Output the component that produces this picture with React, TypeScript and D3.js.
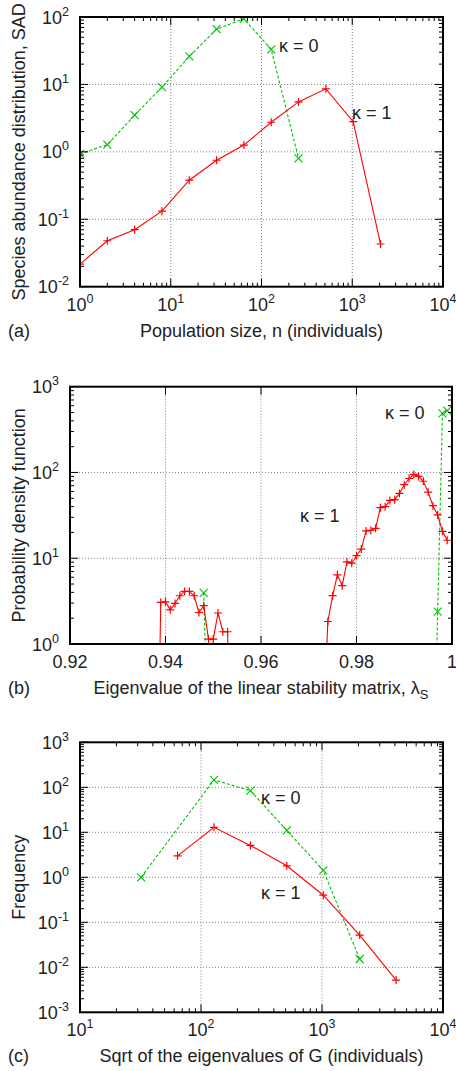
import React from 'react';
import * as d3 from 'd3';

// ---------- Panel (a): species abundance distribution ----------
const sadN = [1, 2, 4, 8, 16, 32, 64, 128, 256, 512, 1024, 2048];
const sadK0 = [0.93, 1.28, 3.5, 9.1, 26, 66, 94, 33, 0.8];
const sadK1 = [0.0216, 0.048, 0.07, 0.132, 0.38, 0.75, 1.26, 2.75, 5.5, 8.6, 2.8, 0.043];

// ---------- Panel (b): pdf of eigenvalues ----------
const pdfLowLambda = [0.938, 0.939, 0.94, 0.941, 0.942, 0.943, 0.944, 0.945, 0.946, 0.947, 0.948, 0.949, 0.95, 0.951, 0.952, 0.953, 0.954];
const pdfLowK1 = [0.001, 3.05, 3.1, 2.5, 2.97, 3.65, 4.1, 4.1, 3.65, 2.33, 2.8, 1.14, 1.14, 2.3, 1.39, 1.39, 0.01];
const pdfHighLambda = [0.973, 0.974, 0.975, 0.976, 0.977, 0.978, 0.979, 0.98, 0.981, 0.982, 0.983, 0.984, 0.985, 0.986, 0.987, 0.988, 0.989, 0.99, 0.991, 0.992, 0.993, 0.994, 0.995, 0.996, 0.997, 0.998, 0.999];
const pdfHighK1 = [0.1, 1.83, 3.66, 6.4, 4.79, 9.06, 8.75, 10.7, 12.8, 20.8, 21.2, 22.3, 38.9, 39.9, 47.2, 48.2, 57, 72, 85, 95, 90, 79, 59, 41, 32, 20.6, 16.2];
const pdfLowLambdaK0 = [0.948, 0.949];
const pdfLowK0 = [3.95, 0.05];
const pdfHighLambdaK0 = [0.996, 0.997, 0.998, 0.999];
const pdfHighK0 = [0.01, 2.38, 490, 526];

// ---------- Panel (c): sqrt of eigenvalues of G ----------
const freqXK0 = [32, 128, 256, 512, 1024, 2048];
const freqK0 = [1.0, 146, 84, 11, 1.43, 0.0153];
const freqXK1 = [64, 128, 256, 512, 1024, 2048, 4096];
const freqK1 = [3.0, 12.9, 5.1, 1.8, 0.4, 0.052, 0.0052];

const linTicksB = [0.92, 0.94, 0.96, 0.98, 1];
const linTickLabelsB = ['0.92', '0.94', '0.96', '0.98', '1'];

const RED = '#ff0000';
const GREEN = '#00c000';
const TEXT = '#222';
const FONT = '"Liberation Sans", Arial, Helvetica, sans-serif';

type Series = { x: number[]; y: number[]; color: string; dash?: string; marker: 'plus' | 'cross' };
type Box = { l: number; t: number; r: number; b: number };
type Label = { text: string; x: number; y: number };

interface PanelProps {
  id: string;
  box: Box;
  xLog: boolean;
  xDomain: [number, number];
  yDomain: [number, number];
  xTicks?: number[];
  xTickLabels?: string[];
  series: Series[];
  xLabel: React.ReactNode;
  yLabel: string;
  letter: string;
  kappa: Label[];
}

function decadeRange(dom: [number, number]) {
  const lo = Math.round(Math.log10(dom[0]));
  const hi = Math.round(Math.log10(dom[1]));
  return d3.range(lo, hi + 1);
}

function minorLog(dom: [number, number]) {
  const out: number[] = [];
  const decs = decadeRange(dom);
  for (let i = 0; i < decs.length - 1; i++) {
    for (let k = 2; k <= 9; k++) out.push(k * Math.pow(10, decs[i]));
  }
  return out;
}

function PowLabel({ exp }: { exp: number }) {
  return (
    <>
      {'10'}
      <tspan dy={-8} fontSize={12.5}>{exp < 0 ? '-' + Math.abs(exp) : String(exp)}</tspan>
    </>
  );
}

function Marker({ x, y, type, color }: { x: number; y: number; type: 'plus' | 'cross'; color: string }) {
  const s = 4;
  if (type === 'plus') {
    return <path d={`M${x - s},${y}H${x + s}M${x},${y - s}V${y + s}`} stroke={color} strokeWidth={1.2} fill="none" />;
  }
  return <path d={`M${x - s},${y - s}L${x + s},${y + s}M${x - s},${y + s}L${x + s},${y - s}`} stroke={color} strokeWidth={1.1} fill="none" />;
}

function Panel(p: PanelProps) {
  const { box } = p;
  const xs: any = p.xLog
    ? d3.scaleLog().domain(p.xDomain).range([box.l, box.r])
    : d3.scaleLinear().domain(p.xDomain).range([box.l, box.r]);
  const ys = d3.scaleLog().domain(p.yDomain).range([box.b, box.t]);

  const xMajor = p.xLog ? decadeRange(p.xDomain).map((e) => Math.pow(10, e)) : (p.xTicks as number[]);
  const yMajor = decadeRange(p.yDomain).map((e) => Math.pow(10, e));
  const xMinor = p.xLog ? minorLog(p.xDomain) : [];
  const yMinor = minorLog(p.yDomain);

  const line = d3
    .line<[number, number]>()
    .x((d) => xs(d[0]))
    .y((d) => ys(d[1]));

  const majLen = 8;
  const minLen = 4;
  const clipId = 'clip-' + p.id;

  return (
    <g>
      <defs>
        <clipPath id={clipId}>
          <rect x={box.l} y={box.t} width={box.r - box.l} height={box.b - box.t} />
        </clipPath>
      </defs>
      {/* grid */}
      <g stroke="#808080" strokeWidth={1} strokeDasharray="1,2">
        {xMajor.slice(1, -1).map((v, i) => (
          <line key={'gx' + i} x1={xs(v)} x2={xs(v)} y1={box.t} y2={box.b} />
        ))}
        {yMajor.slice(1, -1).map((v, i) => (
          <line key={'gy' + i} x1={box.l} x2={box.r} y1={ys(v)} y2={ys(v)} />
        ))}
      </g>
      {/* series */}
      <g clipPath={`url(#${clipId})`}>
        {p.series.map((s, si) => {
          const pts = s.x.map((x, i) => [x, s.y[i]] as [number, number]);
          return (
            <g key={'s' + si}>
              <path d={line(pts) || ''} fill="none" stroke={s.color} strokeWidth={1.1} strokeDasharray={s.dash} />
              {pts.map((d, i) => (
                <Marker key={i} x={xs(d[0])} y={ys(d[1])} type={s.marker} color={s.color} />
              ))}
            </g>
          );
        })}
      </g>
      {/* ticks */}
      <g stroke="#000" strokeWidth={1}>
        {xMajor.map((v, i) => (
          <g key={'xt' + i}>
            <line x1={xs(v)} x2={xs(v)} y1={box.b} y2={box.b - majLen} />
            <line x1={xs(v)} x2={xs(v)} y1={box.t} y2={box.t + majLen} />
          </g>
        ))}
        {xMinor.map((v, i) => (
          <g key={'xm' + i}>
            <line x1={xs(v)} x2={xs(v)} y1={box.b} y2={box.b - minLen} />
            <line x1={xs(v)} x2={xs(v)} y1={box.t} y2={box.t + minLen} />
          </g>
        ))}
        {yMajor.map((v, i) => (
          <g key={'yt' + i}>
            <line x1={box.l} x2={box.l + majLen} y1={ys(v)} y2={ys(v)} />
            <line x1={box.r} x2={box.r - majLen} y1={ys(v)} y2={ys(v)} />
          </g>
        ))}
        {yMinor.map((v, i) => (
          <g key={'ym' + i}>
            <line x1={box.l} x2={box.l + minLen} y1={ys(v)} y2={ys(v)} />
            <line x1={box.r} x2={box.r - minLen} y1={ys(v)} y2={ys(v)} />
          </g>
        ))}
      </g>
      {/* border */}
      <rect x={box.l} y={box.t} width={box.r - box.l} height={box.b - box.t} fill="none" stroke="#000" strokeWidth={2} />
      {/* tick labels */}
      <g fill={TEXT} fontFamily={FONT} fontSize={18}>
        {xMajor.map((v, i) => (
          <text key={'xl' + i} x={xs(v)} y={box.b + 24} textAnchor="middle">
            {p.xLog ? <PowLabel exp={Math.round(Math.log10(v))} /> : (p.xTickLabels as string[])[i]}
          </text>
        ))}
        {yMajor.map((v, i) => (
          <text key={'yl' + i} x={box.l - 11} y={ys(v) + 6.5} textAnchor="end">
            <PowLabel exp={Math.round(Math.log10(v))} />
          </text>
        ))}
        {/* axis labels */}
        <text x={(box.l + box.r) / 2} y={box.b + 50} textAnchor="middle">{p.xLabel}</text>
        <text x={8} y={box.b + 50}>{p.letter}</text>
        <text transform={`translate(24.5,${(box.t + box.b) / 2}) rotate(-90)`} textAnchor="middle">{p.yLabel}</text>
        {p.kappa.map((k, i) => (
          <text key={'k' + i} x={k.x} y={k.y}>{k.text}</text>
        ))}
      </g>
    </g>
  );
}

export default function App() {
  return (
    <svg width={456} height={1071} style={{ position: 'absolute', left: 0, top: 0, background: '#fff' }}>
      <rect x={0} y={0} width={456} height={1071} fill="#fff" />
      <Panel
        id="a"
        box={{ l: 80, t: 17, r: 443, b: 286.7 }}
        xLog
        xDomain={[1, 1e4]}
        yDomain={[1e-2, 1e2]}
        series={[
          { x: sadN.slice(0, sadK0.length), y: sadK0, color: GREEN, dash: '3,2', marker: 'cross' },
          { x: sadN, y: sadK1, color: RED, marker: 'plus' },
        ]}
        xLabel="Population size, n (individuals)"
        yLabel="Species abundance distribution, SAD"
        letter="(a)"
        kappa={[
          { text: 'κ = 0', x: 279, y: 52 },
          { text: 'κ = 1', x: 352, y: 119 },
        ]}
      />
      <Panel
        id="b"
        box={{ l: 70, t: 386.7, r: 452, b: 644 }}
        xLog={false}
        xDomain={[0.92, 1]}
        yDomain={[1, 1e3]}
        xTicks={linTicksB}
        xTickLabels={linTickLabelsB}
        series={[
          { x: pdfLowLambdaK0, y: pdfLowK0, color: GREEN, dash: '3,2', marker: 'cross' },
          { x: pdfHighLambdaK0, y: pdfHighK0, color: GREEN, dash: '3,2', marker: 'cross' },
          { x: pdfLowLambda, y: pdfLowK1, color: RED, marker: 'plus' },
          { x: pdfHighLambda, y: pdfHighK1, color: RED, marker: 'plus' },
        ]}
        xLabel={
          <>
            {'Eigenvalue of the linear stability matrix, λ'}
            <tspan dy={5} fontSize={13}>S</tspan>
          </>
        }
        yLabel="Probability density function"
        letter="(b)"
        kappa={[
          { text: 'κ = 0', x: 385, y: 419 },
          { text: 'κ = 1', x: 300, y: 522 },
        ]}
      />
      <Panel
        id="c"
        box={{ l: 80, t: 742.3, r: 443, b: 1012.3 }}
        xLog
        xDomain={[10, 1e4]}
        yDomain={[1e-3, 1e3]}
        series={[
          { x: freqXK0, y: freqK0, color: GREEN, dash: '3,2', marker: 'cross' },
          { x: freqXK1, y: freqK1, color: RED, marker: 'plus' },
        ]}
        xLabel="Sqrt of the eigenvalues of G (individuals)"
        yLabel="Frequency"
        letter="(c)"
        kappa={[
          { text: 'κ = 0', x: 261, y: 804 },
          { text: 'κ = 1', x: 261, y: 899 },
        ]}
      />
    </svg>
  );
}
